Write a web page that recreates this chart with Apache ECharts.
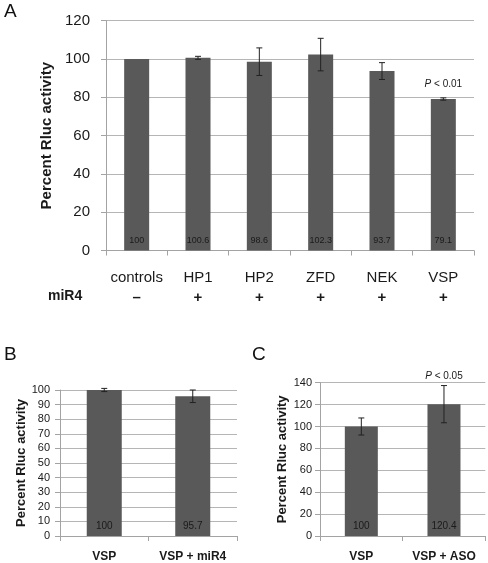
<!DOCTYPE html>
<html><head><meta charset="utf-8">
<script src="https://cdn.jsdelivr.net/npm/echarts@6/dist/echarts.min.js"></script>
<style>html,body{margin:0;padding:0;background:#fff}#c{width:488px;height:563px}</style>
</head><body><div id="c"></div>
<script>
// ---- data ----
const catsA = ['controls', 'HP1', 'HP2', 'ZFD', 'NEK', 'VSP'];
const mir4A = ['–', '+', '+', '+', '+', '+'];
const valsA = [100, 100.6, 98.6, 102.3, 93.7, 79.1];
const errsA = [0, 0.8, 7.2, 8.5, 4.4, 0.6];
const notesA = ['', '', '', '', '', 'P < 0.01'];

const catsB = ['VSP', 'VSP + miR4'];
const valsB = [100, 95.7];
const errsB = [1.1, 4.3];

const catsC = ['VSP', 'VSP + ASO'];
const valsC = [100, 120.4];
const errsC = [7.8, 17];
const notesC = ['', 'P < 0.05'];

const yTitle = 'Percent Rluc activity';
const FONT = 'Liberation Sans, Arial, sans-serif';
const BAR = '#595959';
const GRID = '#b5b5b5';
const AXIS = '#a3a3a3';
const TXT = '#1a1a1a';

const chart = echarts.init(document.getElementById('c'));

function errRender(errs, notes, cap, gap, noteSize) {
  return function (params, api) {
    const i = api.value(0), v = api.value(1), e = errs[params.dataIndex];
    const top = api.coord([i, v + e]);
    const bot = api.coord([i, v - e]);
    const st = { stroke: '#222', lineWidth: 1 };
    const ch = [];
    if (e > 0) {
      ch.push({ type: 'line', shape: { x1: top[0], y1: top[1], x2: bot[0], y2: bot[1] }, style: st });
      ch.push({ type: 'line', shape: { x1: top[0] - cap, y1: top[1], x2: top[0] + cap, y2: top[1] }, style: st });
      ch.push({ type: 'line', shape: { x1: bot[0] - cap, y1: bot[1], x2: bot[0] + cap, y2: bot[1] }, style: st });
    }
    const note = notes ? notes[params.dataIndex] : '';
    if (note) {
      const parts = note.split(' ');
      ch.push({
        type: 'text',
        style: {
          text: '{i|' + parts[0] + '} ' + parts.slice(1).join(' '),
          x: top[0], y: top[1] - gap,
          align: 'center', verticalAlign: 'bottom',
          fontSize: noteSize, fontFamily: FONT, fill: TXT,
          rich: { i: { fontStyle: 'italic', fontSize: noteSize, fontFamily: FONT, fill: TXT } }
        }
      });
    }
    return { type: 'group', children: ch };
  };
}

function yAx(gi, max, interval, labelSize, margin, nameSize, nameGap) {
  return {
    type: 'value', gridIndex: gi, min: 0, max: max, interval: interval,
    axisLine: { show: true, lineStyle: { color: AXIS } },
    axisTick: { show: true, length: 5, lineStyle: { color: AXIS } },
    splitLine: { lineStyle: { color: GRID } },
    axisLabel: { fontSize: labelSize, color: TXT, fontFamily: FONT, margin: margin },
    name: yTitle, nameLocation: 'middle', nameGap: nameGap,
    nameTextStyle: { fontSize: nameSize, fontWeight: 'bold', color: TXT, fontFamily: FONT }
  };
}

function xAx(gi, cats, label) {
  return {
    type: 'category', gridIndex: gi, data: cats,
    axisLine: { show: true, lineStyle: { color: AXIS } },
    axisTick: { show: true, length: 5, lineStyle: { color: AXIS } },
    splitLine: { show: false },
    axisLabel: label
  };
}

function barSeries(gi, vals, width, lblSize) {
  return {
    type: 'bar', xAxisIndex: gi, yAxisIndex: gi, data: vals, barWidth: width,
    itemStyle: { color: BAR }, animation: false,
    label: { show: true, position: 'insideBottom', distance: 5, color: TXT, fontSize: lblSize, fontFamily: FONT }
  };
}

function errSeries(gi, vals, errs, notes, cap, gap, noteSize) {
  return {
    type: 'custom', xAxisIndex: gi, yAxisIndex: gi, animation: false, z: 5,
    data: vals.map((v, i) => [i, v]),
    renderItem: errRender(errs, notes, cap, gap, noteSize)
  };
}

const option = {
  backgroundColor: '#fff',
  animation: false,
  grid: [
    { left: 106, top: 20.7, width: 368, height: 229.8 },
    { left: 60, top: 390, width: 177, height: 147.3 },
    { left: 320, top: 382.7, width: 165.3, height: 154.6 }
  ],
  xAxis: [
    xAx(0, catsA, {
      interval: 0, margin: 17, fontFamily: FONT,
      formatter: (v, idx) => '{n|' + v + '}\n{s|' + mir4A[idx] + '}',
      rich: {
        n: { fontSize: 15, lineHeight: 20, color: TXT, fontFamily: FONT },
        s: { fontSize: 15, lineHeight: 20, color: TXT, fontFamily: FONT, fontWeight: 'bold' }
      }
    }),
    xAx(1, catsB, { interval: 0, margin: 15, fontSize: 12, fontWeight: 'bold', color: TXT, fontFamily: FONT }),
    xAx(2, catsC, { interval: 0, margin: 15, fontSize: 12, fontWeight: 'bold', color: TXT, fontFamily: FONT })
  ],
  yAxis: [
    yAx(0, 120, 20, 15, 16, 15, 48),
    yAx(1, 100, 10, 11, 10, 13, 29),
    yAx(2, 140, 20, 11, 8, 13, 31)
  ],
  series: [
    barSeries(0, valsA, 25, 9),
    errSeries(0, valsA, errsA, notesA, 3, 9, 10),
    barSeries(1, valsB, 35, 10),
    errSeries(1, valsB, errsB, null, 3, 5, 10),
    barSeries(2, valsC, 33, 10),
    errSeries(2, valsC, errsC, notesC, 3, 4, 10)
  ],
  graphic: [
    { type: 'text', left: 4, top: 2, style: { text: 'A', fontSize: 19, fill: '#111', fontFamily: FONT } },
    { type: 'text', left: 4, top: 345, style: { text: 'B', fontSize: 19, fill: '#111', fontFamily: FONT } },
    { type: 'text', left: 252, top: 345, style: { text: 'C', fontSize: 19, fill: '#111', fontFamily: FONT } },
    { type: 'text', left: 48, top: 289, style: { text: 'miR4', fontSize: 14, fontWeight: 'bold', fill: TXT, fontFamily: FONT } }
  ]
};
chart.setOption(option);
</script></body></html>
